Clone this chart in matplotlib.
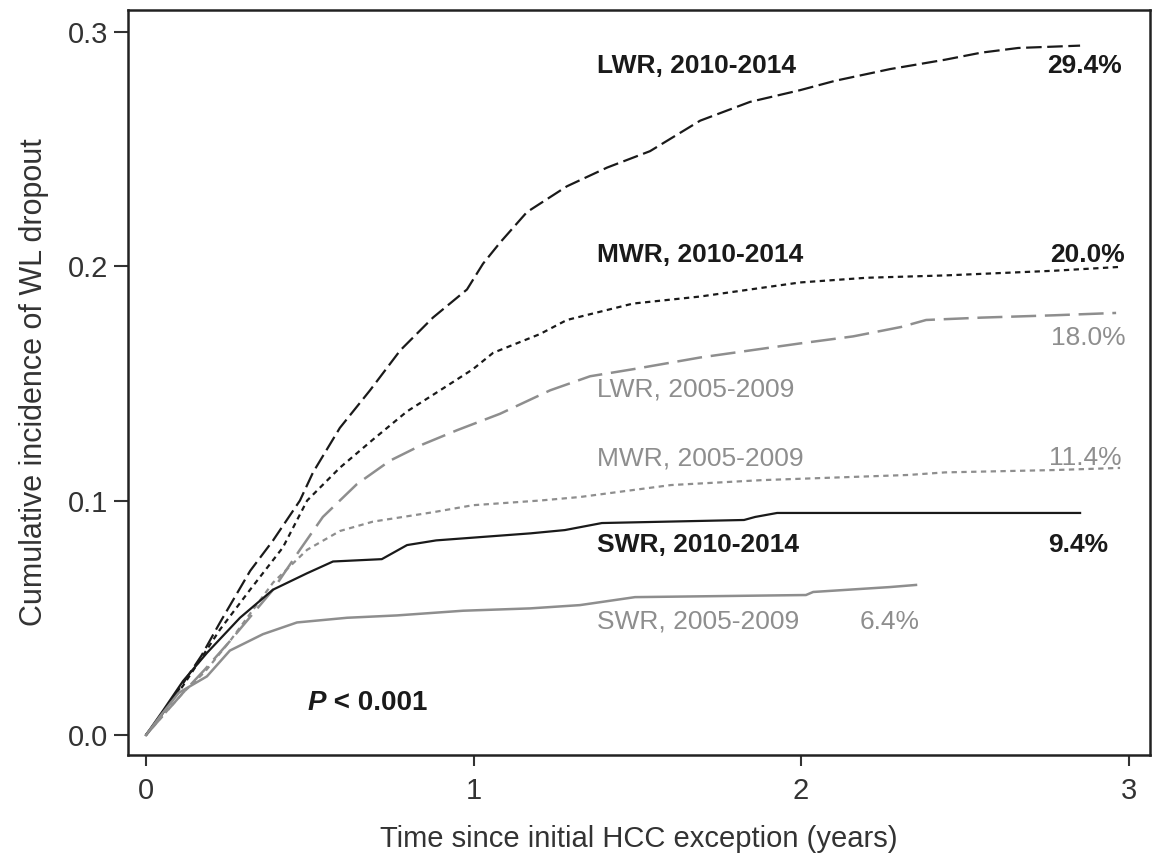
import matplotlib
matplotlib.use("Agg")
import matplotlib.pyplot as plt

plt.rcParams["font.family"] = ["Liberation Sans", "DejaVu Sans"]

BLACK = "#1a1a1a"
GREY = "#8e8e8e"

# curves (years, cumulative incidence)
t_lwr_new = [0, 0.05, 0.113, 0.17, 0.226, 0.318, 0.388, 0.470, 0.510, 0.592, 0.684, 0.776, 0.876, 0.980,
             1.029, 1.081, 1.163, 1.285, 1.408, 1.539, 1.692, 1.844, 1.997, 2.104, 2.272, 2.440, 2.550,
             2.663, 2.852]
y_lwr_new = [0, 0.009, 0.022, 0.034, 0.048, 0.070, 0.083, 0.100, 0.112, 0.131, 0.147, 0.164, 0.178, 0.190,
             0.201, 0.210, 0.223, 0.234, 0.242, 0.249, 0.262, 0.270, 0.275, 0.279, 0.284, 0.288, 0.291,
             0.293, 0.294]

t_mwr_new = [0, 0.05, 0.113, 0.165, 0.226, 0.318, 0.418, 0.492, 0.592, 0.693, 0.797, 0.898, 0.998, 1.060,
             1.203, 1.285, 1.487, 1.692, 1.844, 1.997, 2.200, 2.440, 2.773, 2.97]
y_mwr_new = [0, 0.009, 0.021, 0.032, 0.045, 0.062, 0.080, 0.100, 0.114, 0.126, 0.138, 0.147, 0.156, 0.163,
             0.171, 0.177, 0.184, 0.187, 0.190, 0.193, 0.195, 0.196, 0.198, 0.1996]

t_lwr_old = [0, 0.05, 0.113, 0.18, 0.256, 0.388, 0.470, 0.540, 0.644, 0.745, 0.846, 0.950, 1.081, 1.234,
             1.356, 1.487, 1.692, 1.844, 1.997, 2.159, 2.305, 2.382, 2.550, 2.773, 2.962]
y_lwr_old = [0, 0.008, 0.018, 0.028, 0.040, 0.062, 0.079, 0.093, 0.107, 0.117, 0.124, 0.130, 0.137, 0.147,
             0.153, 0.156, 0.161, 0.164, 0.167, 0.170, 0.174, 0.177, 0.178, 0.179, 0.180]

t_mwr_old = [0, 0.05, 0.113, 0.18, 0.256, 0.388, 0.492, 0.592, 0.693, 0.876, 0.998, 1.203, 1.325, 1.603,
             1.881, 2.327, 2.440, 2.773, 2.974]
y_mwr_old = [0, 0.008, 0.018, 0.027, 0.040, 0.065, 0.079, 0.087, 0.091, 0.095, 0.098, 0.100, 0.1015, 0.1066,
             0.1087, 0.1109, 0.112, 0.113, 0.1139]

t_swr_new = [0, 0.05, 0.113, 0.186, 0.287, 0.388, 0.492, 0.571, 0.720, 0.797, 0.886, 1.174, 1.279, 1.392,
             1.826, 1.860, 1.927, 2.852]
y_swr_new = [0, 0.010, 0.023, 0.035, 0.050, 0.062, 0.069, 0.074, 0.075, 0.081, 0.083, 0.086, 0.0874, 0.0904,
             0.0917, 0.093, 0.0947, 0.0947]

t_swr_old = [0, 0.043, 0.10, 0.186, 0.256, 0.357, 0.461, 0.614, 0.766, 0.968, 1.173, 1.325, 1.493, 2.015,
             2.037, 2.272, 2.351]
y_swr_old = [0, 0.008, 0.018, 0.025, 0.036, 0.043, 0.048, 0.050, 0.051, 0.053, 0.054, 0.0554, 0.0588, 0.0597,
             0.061, 0.0631, 0.064]

group_labels = ["LWR, 2010-2014", "MWR, 2010-2014", "LWR, 2005-2009",
                "MWR, 2005-2009", "SWR, 2010-2014", "SWR, 2005-2009"]
final_pcts = ["29.4%", "20.0%", "18.0%", "11.4%", "9.4%", "6.4%"]

x_ticks = [0, 1, 2, 3]
y_ticks = [0.0, 0.1, 0.2, 0.3]

fig = plt.figure(figsize=(11.52, 8.61), dpi=100)
ax = fig.add_axes([0.1111, 0.1231, 0.8872, 0.8653])

ax.plot(t_lwr_new, y_lwr_new, color=BLACK, lw=1.6, dashes=(7, 2.5))
ax.plot(t_mwr_new, y_mwr_new, color=BLACK, lw=1.6, dashes=(2.4, 2))
ax.plot(t_lwr_old, y_lwr_old, color=GREY, lw=1.8, dashes=(10, 3.5))
ax.plot(t_mwr_old, y_mwr_old, color=GREY, lw=1.6, dashes=(2.4, 2))
ax.plot(t_swr_new, y_swr_new, color=BLACK, lw=1.6)
ax.plot(t_swr_old, y_swr_old, color=GREY, lw=1.8)

# group names on the left, end values on the right
name_y = [0.2853, 0.2047, 0.1475, 0.1181, 0.081, 0.0482]
pct_pos = [(2.98, 0.2853), (2.99, 0.2047), (2.99, 0.1693), (2.98, 0.1181), (2.937, 0.081), (2.363, 0.0482)]
colors = [BLACK, BLACK, GREY, GREY, BLACK, GREY]
weights = ["bold", "bold", "normal", "normal", "bold", "normal"]
for name, yy, pct, (px, py), c, w in zip(group_labels, name_y, final_pcts, pct_pos, colors, weights):
    ax.text(1.377, yy, name, color=c, fontsize=19, fontweight=w, ha="left", va="center")
    ax.text(px, py, pct, color=c, fontsize=19, fontweight=w, ha="right", va="center")

p_txt = ax.text(0.492, 0.0136, "P", fontsize=20, fontweight="bold", fontstyle="italic",
                ha="left", va="center", color=BLACK)
ax.annotate(" < 0.001", xy=(1, 0.5), xycoords=p_txt, fontsize=20, fontweight="bold",
            ha="left", va="center", color=BLACK)

ax.set_xlim(-0.055, 3.0656)
ax.set_ylim(-0.00853, 0.3092)
ax.set_xticks(x_ticks)
ax.set_xticklabels([str(v) for v in x_ticks])
ax.set_yticks(y_ticks)
ax.set_yticklabels(["%.1f" % v for v in y_ticks])
ax.tick_params(axis="x", length=8, width=1.5, pad=8, labelsize=21, colors="#333333", labelcolor="#333333")
ax.tick_params(axis="y", length=10, width=1.5, pad=4, labelsize=21, colors="#333333", labelcolor="#333333")
for s in ax.spines.values():
    s.set_linewidth(1.8)
    s.set_color("#222222")

ax.set_xlabel("Time since initial HCC exception (years)", fontsize=21, color="#333333", labelpad=14)
ax.set_ylabel("Cumulative incidence of WL dropout", fontsize=22, color="#333333", labelpad=14)

fig.savefig("out.png", dpi=100)
